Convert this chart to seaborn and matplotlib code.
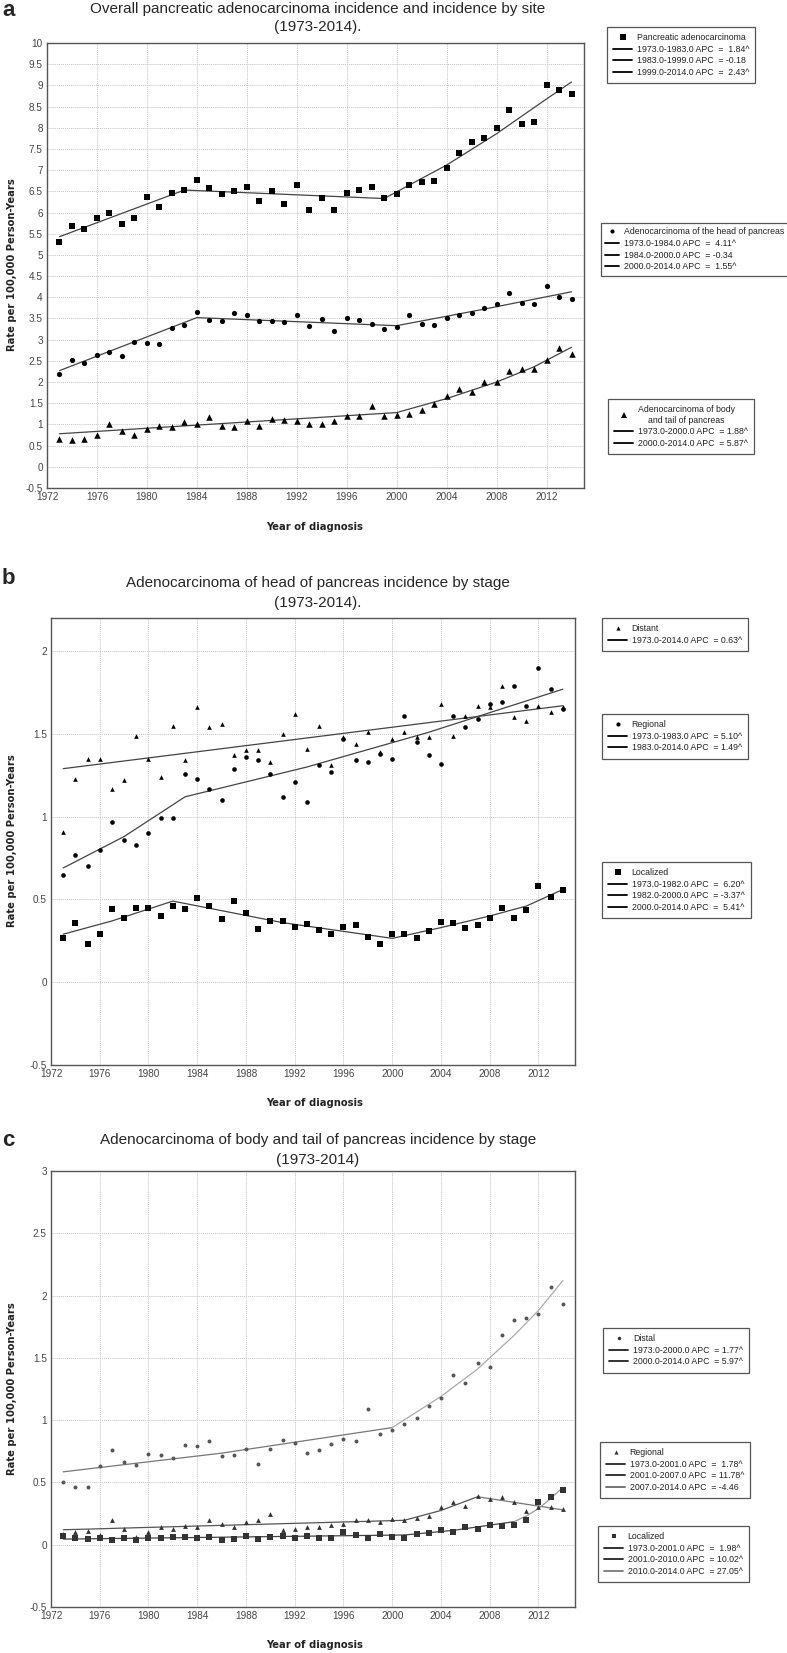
import numpy as np
import pandas as pd
import seaborn as sns
import matplotlib.pyplot as plt
from matplotlib.lines import Line2D
from matplotlib.ticker import MultipleLocator, FuncFormatter
from matplotlib import font_manager

W, H = 787, 1653
years = list(range(1973, 2015))

# ---- panel a: overall and by site ----
pancreatic = [5.31, 5.68, 5.60, 5.86, 5.98, 5.74, 5.86, 6.36, 6.12, 6.45,
              6.53, 6.76, 6.57, 6.43, 6.50, 6.60, 6.28, 6.50, 6.19, 6.64,
              6.05, 6.35, 6.06, 6.47, 6.53, 6.61, 6.34, 6.44, 6.65, 6.71,
              6.74, 7.06, 7.40, 7.66, 7.75, 8.00, 8.43, 8.09, 8.13, 9.00,
              8.88, 8.80]
head = [2.19, 2.52, 2.46, 2.64, 2.70, 2.62, 2.95, 2.91, 2.89, 3.27,
        3.34, 3.66, 3.47, 3.43, 3.62, 3.59, 3.44, 3.44, 3.41, 3.58,
        3.33, 3.48, 3.21, 3.51, 3.47, 3.36, 3.25, 3.29, 3.58, 3.36,
        3.35, 3.50, 3.58, 3.62, 3.75, 3.84, 4.09, 3.86, 3.83, 4.26,
        4.01, 3.97]
body = [0.66, 0.63, 0.66, 0.76, 1.01, 0.85, 0.74, 0.90, 0.97, 0.94,
        1.05, 1.02, 1.17, 0.97, 0.94, 1.08, 0.96, 1.13, 1.10, 1.09,
        1.01, 1.02, 1.07, 1.19, 1.19, 1.44, 1.21, 1.23, 1.25, 1.34,
        1.48, 1.66, 1.84, 1.77, 1.99, 2.00, 2.26, 2.31, 2.31, 2.52,
        2.80, 2.66]
pan_fit_yrs = [1973, 1983, 1999, 2004, 2008, 2012, 2014]
pan_fit = [5.43, 6.53, 6.33, 7.12, 7.86, 8.68, 9.08]
head_fit_yrs = [1973, 1984, 2000, 2007, 2014]
head_fit = [2.27, 3.52, 3.33, 3.72, 4.13]
body_fit_yrs = [1973, 2000, 2004, 2008, 2011, 2014]
body_fit = [0.78, 1.28, 1.61, 2.00, 2.36, 2.82]

# ---- panel b: head of pancreas by stage ----
distant_b = [0.91, 1.23, 1.35, 1.35, 1.17, 1.22, 1.49, 1.35, 1.24, 1.55,
             1.34, 1.66, 1.54, 1.56, 1.37, 1.40, 1.40, 1.33, 1.50, 1.62,
             1.41, 1.55, 1.31, 1.48, 1.44, 1.51, 1.39, 1.47, 1.51, 1.48,
             1.48, 1.68, 1.49, 1.61, 1.67, 1.66, 1.79, 1.60, 1.58, 1.67,
             1.63, 1.66]
regional_b = [0.65, 0.77, 0.70, 0.80, 0.97, 0.86, 0.83, 0.90, 0.99, 0.99,
              1.26, 1.23, 1.17, 1.10, 1.29, 1.36, 1.34, 1.26, 1.12, 1.21,
              1.09, 1.31, 1.27, 1.47, 1.34, 1.33, 1.38, 1.35, 1.61, 1.45,
              1.37, 1.32, 1.61, 1.54, 1.59, 1.68, 1.69, 1.79, 1.67, 1.90,
              1.77, 1.65]
localized_b = [0.27, 0.355, 0.23, 0.29, 0.44, 0.39, 0.45, 0.45, 0.40, 0.46,
               0.44, 0.51, 0.46, 0.38, 0.49, 0.42, 0.32, 0.37, 0.37, 0.335,
               0.35, 0.315, 0.29, 0.335, 0.345, 0.275, 0.23, 0.29, 0.29, 0.27,
               0.31, 0.365, 0.355, 0.33, 0.345, 0.39, 0.45, 0.39, 0.435, 0.58,
               0.515, 0.56]
dist_b_fit_yrs = [1973, 2014]
dist_b_fit = [1.29, 1.67]
reg_b_fit_yrs = [1973, 1978, 1983, 1993, 2003, 2014]
reg_b_fit = [0.69, 0.88, 1.12, 1.30, 1.51, 1.77]
loc_b_fit_yrs = [1973, 1977, 1982, 1991, 2000, 2004, 2008, 2011, 2014]
loc_b_fit = [0.29, 0.37, 0.49, 0.36, 0.265, 0.33, 0.40, 0.46, 0.56]

# ---- panel c: body and tail by stage ----
distal_c = [0.50, 0.46, 0.46, 0.63, 0.76, 0.66, 0.64, 0.73, 0.72, 0.70,
            0.80, 0.79, 0.83, 0.71, 0.72, 0.77, 0.65, 0.77, 0.84, 0.82,
            0.74, 0.76, 0.81, 0.85, 0.83, 1.09, 0.89, 0.92, 0.97, 1.02,
            1.11, 1.18, 1.36, 1.30, 1.46, 1.43, 1.68, 1.80, 1.82, 1.85,
            2.07, 1.93]
regional_c = [0.086, 0.10, 0.11, 0.08, 0.20, 0.13, 0.06, 0.10, 0.14, 0.13,
              0.15, 0.14, 0.20, 0.17, 0.14, 0.18, 0.20, 0.25, 0.12, 0.13,
              0.14, 0.145, 0.155, 0.165, 0.20, 0.195, 0.18, 0.21, 0.195, 0.215,
              0.23, 0.305, 0.34, 0.31, 0.39, 0.37, 0.38, 0.34, 0.27, 0.305,
              0.30, 0.29]
localized_c = [0.067, 0.05, 0.045, 0.05, 0.035, 0.05, 0.04, 0.05, 0.05, 0.065,
               0.06, 0.05, 0.06, 0.04, 0.045, 0.07, 0.045, 0.06, 0.067, 0.05,
               0.067, 0.05, 0.055, 0.10, 0.078, 0.056, 0.083, 0.062, 0.054, 0.083,
               0.097, 0.12, 0.10, 0.145, 0.13, 0.16, 0.15, 0.16, 0.20, 0.34,
               0.385, 0.44]
dist_c_fit_yrs = [1973, 1986, 2000, 2004, 2007, 2010, 2012, 2014]
dist_c_fit = [0.585, 0.735, 0.94, 1.19, 1.41, 1.68, 1.88, 2.12]
reg_c_fit_yrs = [1973, 2001, 2004, 2007, 2014]
reg_c_fit = [0.12, 0.196, 0.275, 0.385, 0.28]
loc_c_fit_yrs = [1973, 2001, 2005, 2010, 2011, 2012, 2013, 2014]
loc_c_fit = [0.045, 0.078, 0.115, 0.185, 0.23, 0.29, 0.37, 0.46]

sns.set_style("white")
plt.rcParams['font.family'] = ['Liberation Sans', 'DejaVu Sans']
names = {f.name for f in font_manager.fontManager.ttflist}
leg_font = 'Liberation Sans Narrow' if 'Liberation Sans Narrow' in names else 'Liberation Sans'
leg_size = 7 if leg_font == 'Liberation Sans Narrow' else 6.3

fig = plt.figure(figsize=(W / 100, H / 100), dpi=100)


def px_axes(left, top, right, bottom):
    return fig.add_axes([left / W, 1 - bottom / H, (right - left) / W, (bottom - top) / H])


def style_axes(ax, ylo, yhi):
    ax.set_xlim(1972, 2015)
    ax.set_ylim(ylo, yhi)
    ax.xaxis.set_major_locator(MultipleLocator(4))
    ax.yaxis.set_major_locator(MultipleLocator(0.5))
    ax.yaxis.set_major_formatter(FuncFormatter(lambda v, p: f"{v:g}"))
    ax.grid(True, color='#c4c4c4', linestyle=(0, (1, 1)), linewidth=0.7)
    ax.tick_params(length=0, labelsize=7.2, colors='#444', pad=3)
    for s in ax.spines.values():
        s.set_color('#555')
        s.set_linewidth(1.0)
    ax.set_xlabel('')
    ax.set_ylabel('')


def draw_fit(ax, yrs, vals, joins, colors, lw=0.9):
    df = pd.DataFrame({'year': yrs, 'rate': vals})
    for (a, b), c in zip(zip(joins[:-1], joins[1:]), colors):
        seg = df[(df.year >= a) & (df.year <= b)]
        sns.lineplot(data=seg, x='year', y='rate', color=c, linewidth=lw,
                     sort=False, estimator=None, ax=ax, zorder=2)


def dots(ax, vals, marker, s, color='black'):
    sns.scatterplot(x=years, y=vals, marker=marker, s=s, color=color,
                    linewidth=0, ax=ax, zorder=3)


def box_legend(x, y, marker, msize, mcolor, first, lines, lcolors,
               pad=0.7, hlen=2.2):
    handles = [Line2D([], [], linestyle='none', marker=marker, markersize=msize,
                      color=mcolor, markeredgewidth=0)]
    handles += [Line2D([], [], color=c, linewidth=1.3) for c in lcolors]
    leg = fig.legend(handles, [first] + lines, loc='upper left',
                     bbox_to_anchor=(x / W, 1 - y / H), borderaxespad=0,
                     frameon=True, fancybox=False, framealpha=1,
                     edgecolor='#555', borderpad=pad, labelspacing=0.3,
                     handlelength=hlen, handletextpad=0.5,
                     prop={'family': leg_font, 'size': leg_size})
    leg.get_frame().set_linewidth(0.9)
    for t in leg.get_texts():
        t.set_color('#222')
    leg.get_texts()[0].set_multialignment('center')
    return leg


def panel_text(letter, ly, title1, t1y, t2y, ax_mid, xl_y):
    fig.text(2 / W, 1 - ly / H, letter, fontsize=16, fontweight='bold',
             ha='left', va='center')
    fig.text(318 / W, 1 - t1y / H, title1, fontsize=11, ha='center', va='center')
    fig.text(318 / W, 1 - t2y / H, "(1973-2014)" + ("." if letter != 'c' else ""),
             fontsize=11, ha='center', va='center')
    fig.text(12 / W, 1 - ax_mid / H, "Rate per 100,000 Person-Years", rotation=90,
             family='DejaVu Sans', fontweight='bold', fontsize=7.2, ha='center',
             va='center', color='#222')
    fig.text(315 / W, 1 - xl_y / H, "Year of diagnosis", family='DejaVu Sans',
             fontweight='bold', fontsize=7.2, ha='center', va='center', color='#222')


# ---------------- panel a ----------------
ax1 = px_axes(47, 43, 584, 488)
dots(ax1, pancreatic, 's', 20)
dots(ax1, head, 'o', 14)
dots(ax1, body, '^', 22)
draw_fit(ax1, pan_fit_yrs, pan_fit, [1973, 2014], ['#444'])
draw_fit(ax1, head_fit_yrs, head_fit, [1973, 2014], ['#444'])
draw_fit(ax1, body_fit_yrs, body_fit, [1973, 2014], ['#444'])
style_axes(ax1, -0.5, 10)
panel_text('a', 11, "Overall pancreatic adenocarcinoma incidence and incidence by site",
           9, 27, 265, 527)
box_legend(607, 27, 's', 4, 'black', "Pancreatic adenocarcinoma",
           ["1973.0-1983.0 APC  =  1.84^", "1983.0-1999.0 APC  = -0.18",
            "1999.0-2014.0 APC  =  2.43^"], ['black'] * 3)
box_legend(601, 223, 'o', 3, 'black', "Adenocarcinoma of the head of pancreas",
           ["1973.0-1984.0 APC  =  4.11^", "1984.0-2000.0 APC  = -0.34",
            "2000.0-2014.0 APC  =  1.55^"], ['black'] * 3, pad=0.5, hlen=1.6)
box_legend(608, 399, '^', 4, 'black', "Adenocarcinoma of body\nand tail of pancreas",
           ["1973.0-2000.0 APC  = 1.88^", "2000.0-2014.0 APC  = 5.87^"], ['black'] * 2)

# ---------------- panel b ----------------
ax2 = px_axes(51, 618, 575, 1065)
dots(ax2, distant_b, '^', 11)
dots(ax2, regional_b, 'o', 11)
dots(ax2, localized_b, 's', 20)
draw_fit(ax2, dist_b_fit_yrs, dist_b_fit, [1973, 2014], ['#444'])
draw_fit(ax2, reg_b_fit_yrs, reg_b_fit, [1973, 2014], ['#444'])
draw_fit(ax2, loc_b_fit_yrs, loc_b_fit, [1973, 2014], ['#444'])
style_axes(ax2, -0.5, 2.2)
panel_text('b', 578, "Adenocarcinoma of head of pancreas incidence by stage",
           583, 603, 841, 1103)
box_legend(602, 618, '^', 3, 'black', "Distant",
           ["1973.0-2014.0 APC  = 0.63^"], ['black'])
box_legend(602, 714, 'o', 3, 'black', "Regional",
           ["1973.0-1983.0 APC  = 5.10^", "1983.0-2014.0 APC  = 1.49^"], ['black'] * 2)
box_legend(602, 862, 's', 4, 'black', "Localized",
           ["1973.0-1982.0 APC  =  6.20^", "1982.0-2000.0 APC  = -3.37^",
            "2000.0-2014.0 APC  =  5.41^"], ['black'] * 3)

# ---------------- panel c ----------------
ax3 = px_axes(51, 1171, 575, 1607)
dots(ax3, distal_c, 'o', 8, '#555')
dots(ax3, regional_c, '^', 12, '#333')
dots(ax3, localized_c, 's', 20, '#333')
draw_fit(ax3, dist_c_fit_yrs, dist_c_fit, [1973, 2000, 2014], ['#777', '#aaa'])
draw_fit(ax3, reg_c_fit_yrs, reg_c_fit, [1973, 2001, 2007, 2014], ['#555', '#555', '#777'])
draw_fit(ax3, loc_c_fit_yrs, loc_c_fit, [1973, 2001, 2010, 2014], ['#444', '#444', '#999'])
style_axes(ax3, -0.5, 3)
panel_text('c', 1140, "Adenocarcinoma of body and tail of pancreas incidence by stage",
           1140, 1160, 1389, 1645)
box_legend(603, 1328, 'o', 2.5, '#333', "Distal",
           ["1973.0-2000.0 APC  = 1.77^", "2000.0-2014.0 APC  = 5.97^"], ['#222'] * 2)
box_legend(600, 1442, '^', 3, '#333', "Regional",
           ["1973.0-2001.0 APC  =  1.78^", "2001.0-2007.0 APC  = 11.78^",
            "2007.0-2014.0 APC  = -4.46"], ['#222', '#222', '#666'])
box_legend(598, 1526, 's', 3.5, '#333', "Localized",
           ["1973.0-2001.0 APC  =  1.98^", "2001.0-2010.0 APC  = 10.02^",
            "2010.0-2014.0 APC  = 27.05^"], ['#222', '#222', '#777'])

fig.savefig("out.png", dpi=100)
